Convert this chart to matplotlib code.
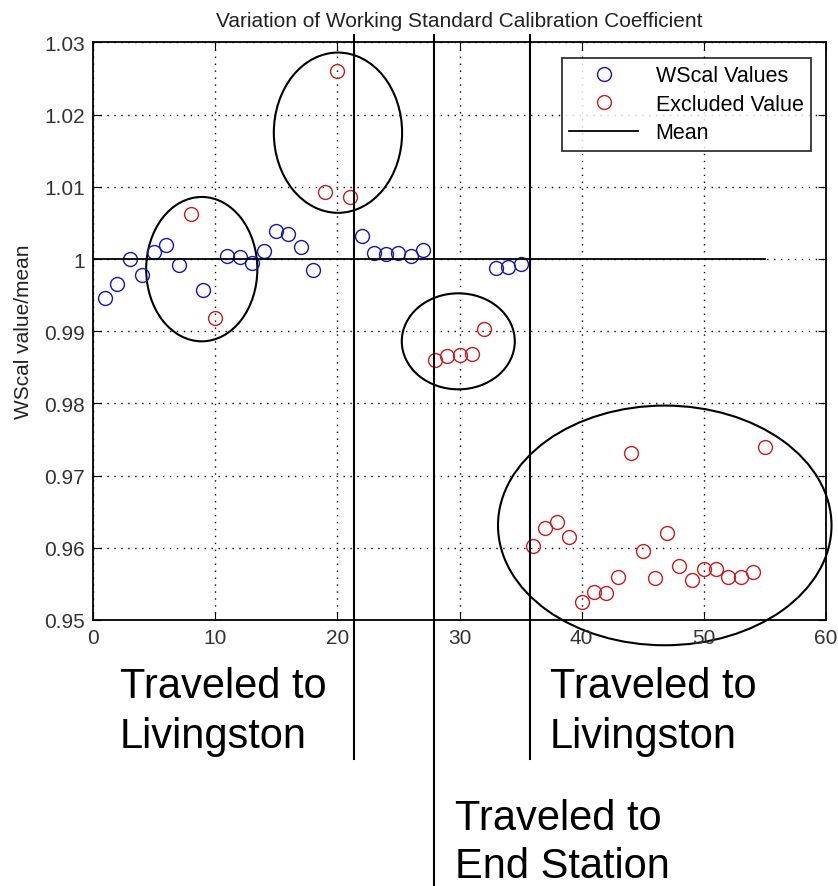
import numpy as np
import matplotlib
matplotlib.use("Agg")
import matplotlib.pyplot as plt
from matplotlib.patches import Ellipse

plt.rcParams['font.family'] = ['Liberation Sans', 'DejaVu Sans']

# measurement index and normalised WScal value
wscal_x = [1, 2, 3, 4, 5, 6, 7, 9, 11, 12, 13, 14, 15, 16, 17, 18,
           22, 23, 24, 25, 26, 27, 33, 34, 35]
wscal_y = [0.9946, 0.9965, 1.0000, 0.9978, 1.0010, 1.0020, 0.9992, 0.9957,
           1.0004, 1.0003, 0.9995, 1.0011, 1.0039, 1.0035, 1.0017, 0.9985,
           1.0032, 1.0008, 1.0007, 1.0008, 1.0004, 1.0012, 0.9988, 0.9989, 0.9993]

excl_x = [8, 10, 19, 20, 21, 28, 29, 30, 31, 32,
          36, 37, 38, 39, 40, 41, 42, 43, 44, 45, 46, 47, 48, 49, 50,
          51, 52, 53, 54, 55]
excl_y = [1.0062, 0.9918, 1.0093, 1.0261, 1.0086, 0.9860, 0.9866, 0.9867, 0.9868, 0.9903,
          0.9603, 0.9627, 0.9636, 0.9615, 0.9525, 0.9539, 0.9538, 0.9560, 0.9732, 0.9596,
          0.9558, 0.9620, 0.9575, 0.9555, 0.9571, 0.9571, 0.9560, 0.9560, 0.9567, 0.9739]

mean_x = [0, 55]
mean_y = [1.0, 1.0]

# trip boundaries (x) and how far down the figure the line runs (y)
trips = [(21.4, 0.9307), (27.9, 0.9130), (35.8, 0.9307)]
# circled groups: centre x, centre y, width, height
groups = [(8.9, 0.9986, 9.1, 0.0200),
          (20.05, 1.0175, 10.5, 0.0222),
          (29.9, 0.9886, 9.25, 0.0133),
          (46.8, 0.9631, 27.3, 0.0332)]
notes = [(2.2, 0.9393, 0.9324, "Traveled to", "Livingston"),
         (37.4, 0.9393, 0.9324, "Traveled to", "Livingston"),
         (29.6, 0.9211, 0.9144, "Traveled to", "End Station")]

fig = plt.figure(figsize=(8.38, 8.87), dpi=100)
ax = fig.add_axes([0.111, 0.2999, 0.8747, 0.6511])

ax.plot(wscal_x, wscal_y, 'o', mfc='none', mec='#1414bb', ms=10, mew=1.0, label='WScal Values')
ax.plot(excl_x, excl_y, 'o', mfc='none', mec='#cc1a1a', ms=10, mew=1.0, label='Excluded Value')
ax.plot(mean_x, mean_y, 'k-', lw=1.3, label='Mean')

ax.set_xlim(0, 60)
ax.set_ylim(0.95, 1.03)
ax.set_xticks(np.arange(0, 61, 10))
ax.set_yticks(np.arange(0.95, 1.0301, 0.01))
ax.set_yticklabels(['0.95', '0.96', '0.97', '0.98', '0.99', '1', '1.01', '1.02', '1.03'])
ax.grid(True, linestyle=(0, (1, 4)), color='k', lw=1.0)
ax.tick_params(direction='in', top=True, right=True, labelsize=15, labelcolor='#333333',
               length=6, pad=6)
for s in ax.spines.values():
    s.set_linewidth(1.3)

ax.set_title('Variation of Working Standard Calibration Coefficient', fontsize=15,
             color='#222222', pad=12)
ax.set_ylabel('WScal value/mean', fontsize=15, color='#222222', labelpad=8)

leg = ax.legend(loc='upper right', fontsize=15.5, frameon=True, fancybox=False,
                edgecolor='k', borderaxespad=0.7, handlelength=3.2, labelspacing=0.35,
                borderpad=0.35)
leg.get_frame().set_linewidth(1.3)

for x, y0 in trips:
    ax.plot([x, x], [1.031, y0], 'k-', lw=1.5, clip_on=False)

for cx, cy, w, h in groups:
    ax.add_patch(Ellipse((cx, cy), w, h, fill=False, ec='k', lw=1.5, clip_on=False))

for x, y1, y2, l1, l2 in notes:
    ax.text(x, y1, l1, fontsize=30, va='baseline', ha='left')
    ax.text(x, y2, l2, fontsize=30, va='baseline', ha='left')

fig.savefig('out.png', dpi=100)
